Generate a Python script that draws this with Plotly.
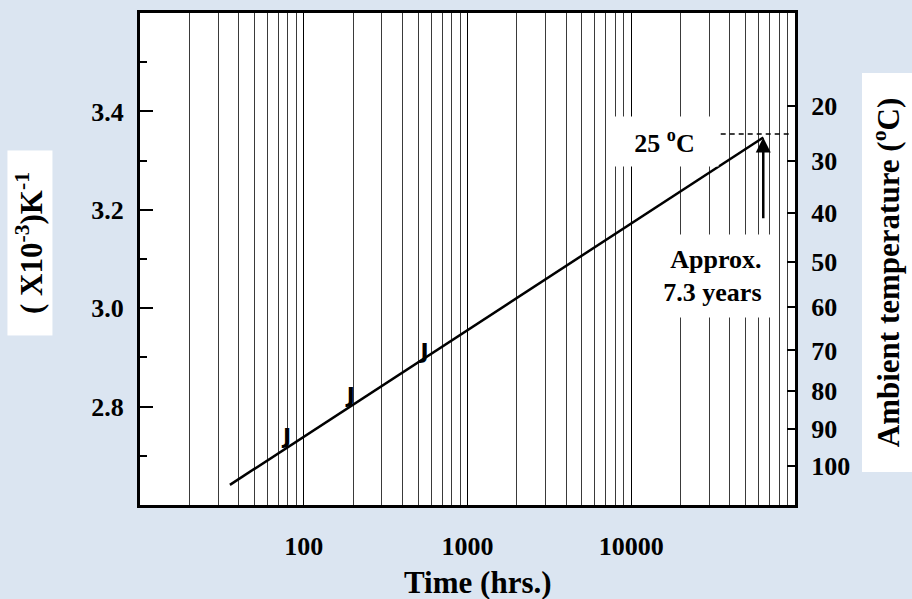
import math
import plotly.graph_objects as go

# ---- data ----
fit_time = [35.4, 64000]          # hrs, fitted regression line ends
fit_value = [2.641, 3.347]        # 1000/T (x10^-3 K^-1)
obs_time = [79, 194, 547]         # hrs, test points
obs_value = [2.712, 2.796, 2.885] # 1000/T
x_tick_vals = [100, 1000, 10000]
x_tick_text = ["100", "1000", "10000"]
y_tick_vals = [2.8, 3.0, 3.2, 3.4]
y_tick_text = ["2.8", "3.0", "3.2", "3.4"]
y_minor_vals = [2.7, 2.9, 3.1, 3.3, 3.5]
temps_c = [20, 30, 40, 50, 60, 70, 80, 90, 100]
ref_temp_c = 25
life_hours = 64000                # approx. 7.3 years
arrow_base_value = 3.18
dash_time = [31000, 95000]

temp_pos = [1000.0 / (t + 273.15) for t in temps_c]
ref_pos = 1000.0 / (ref_temp_c + 273.15)
minor_x = [m * 10 ** k for k in range(1, 5) for m in range(2, 10)]

FONT = "Liberation Serif"
BG = "#dbe5f1"

fig = go.Figure()
fig.add_trace(go.Scatter(x=fit_time, y=fit_value, mode="lines",
                         line=dict(color="black", width=2.5),
                         showlegend=False, hoverinfo="skip"))
fig.add_trace(go.Scatter(x=obs_time, y=obs_value, mode="text", text=["J"] * len(obs_time),
                         textposition="top center",
                         textfont=dict(family="DejaVu Sans", size=22, color="black",
                                       weight="bold"),
                         showlegend=False))
fig.add_trace(go.Scatter(x=dash_time, y=[ref_pos, ref_pos], mode="lines", yaxis="y2",
                         line=dict(color="black", width=1.5, dash="5px,4px"),
                         showlegend=False, hoverinfo="skip"))

fig.update_layout(
    width=912, height=599,
    margin=dict(l=140, r=117, t=13, b=94, autoexpand=False),
    paper_bgcolor=BG, plot_bgcolor="white",
    font=dict(family=FONT, size=26, color="black", weight="bold"),
    xaxis=dict(type="log", range=[1, 5], tickvals=x_tick_vals, ticktext=x_tick_text,
               ticks="", showline=True, linewidth=3, linecolor="black", mirror=True,
               showgrid=True, gridcolor="#000000", gridwidth=1.3, automargin=False,
               ticklabelstandoff=16,
               minor=dict(tickvals=minor_x, showgrid=True, gridcolor="#3a3a3a",
                          gridwidth=1, ticks=""),
               tickfont=dict(family=FONT, size=26, weight="bold"), zeroline=False),
    yaxis=dict(range=[2.6, 3.6], tickvals=y_tick_vals, ticktext=y_tick_text,
               ticks="inside", ticklen=13, tickwidth=1.5, tickcolor="black",
               showline=True, linewidth=3, linecolor="black", showgrid=False,
               zeroline=False, ticklabelstandoff=8, automargin=False,
               minor=dict(tickvals=y_minor_vals, ticks="inside",
                          ticklen=7, tickwidth=1.5, tickcolor="black", showgrid=False),
               tickfont=dict(family=FONT, size=26, weight="bold")),
    yaxis2=dict(range=[2.6, 3.6], overlaying="y", side="right",
                tickvals=temp_pos, ticktext=[str(t) for t in temps_c],
                ticks="inside", ticklen=8, tickwidth=1.5, tickcolor="black",
                showline=True, linewidth=3, linecolor="black", showgrid=False,
                zeroline=False, ticklabelstandoff=8, automargin=False,
                tickfont=dict(family=FONT, size=26, weight="bold")),
)

anns = []
# axis titles
anns.append(dict(xref="paper", yref="paper", x=0.516, y=-0.158, text="Time (hrs.)",
                 showarrow=False, font=dict(family=FONT, size=31, weight="bold"),
                 xanchor="center", yanchor="middle"))
anns.append(dict(xref="paper", yref="paper", x=-0.168, y=0.5325,
                 text="( X10<sup>-3</sup>)K<sup>-1</sup>", textangle=-90,
                 showarrow=False, bgcolor="white", width=182, height=42,
                 font=dict(family=FONT, size=31, weight="bold"),
                 xanchor="center", yanchor="middle"))
anns.append(dict(xref="paper", yref="paper", x=1.1412, y=0.4736,
                 text="Ambient temperature (<sup>o</sup>C)", textangle=-90,
                 showarrow=False, bgcolor="white", width=396, height=47,
                 font=dict(family=FONT, size=31, weight="bold"),
                 xanchor="center", yanchor="middle"))
# 25 C label
anns.append(dict(xref="paper", yref="paper", x=0.8015, y=0.738,
                 text="25 <sup>o</sup>C", showarrow=False, bgcolor="white",
                 width=105, height=47, font=dict(family=FONT, size=26, weight="bold"),
                 xanchor="center", yanchor="middle"))
# Approx label
anns.append(dict(xref="paper", yref="paper", x=0.8695, y=0.4654,
                 text="Approx.&nbsp;<br>7.3 years&nbsp;", showarrow=False,
                 bgcolor="white", width=117, height=70, borderpad=6, align="right",
                 font=dict(family=FONT, size=26, weight="bold"),
                 xanchor="center", yanchor="middle"))
# arrow
anns.append(dict(xref="x", yref="y", x=math.log10(life_hours), y=fit_value[-1],
                 axref="x", ayref="y", ax=math.log10(life_hours), ay=arrow_base_value,
                 text="", showarrow=True, arrowhead=2, arrowsize=1.2, arrowwidth=2.5,
                 arrowcolor="black"))
fig.update_layout(annotations=anns)

fig.write_html("out.html", config={"displayModeBar": False},
               post_script="document.body.style.margin='0px';"
                           "document.body.style.overflow='hidden';")
